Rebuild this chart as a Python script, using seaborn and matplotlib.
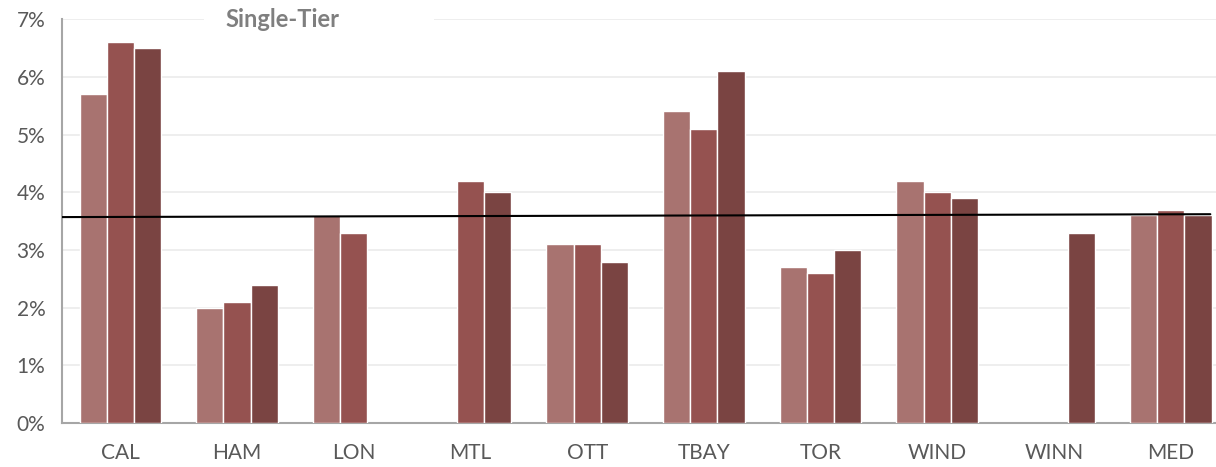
import numpy as np
import pandas as pd
import matplotlib.pyplot as plt
import matplotlib.patches as mpatches
from matplotlib.ticker import FuncFormatter, FixedLocator
import seaborn as sns

# Data (values in %)
cities = ["CAL", "HAM", "LON", "MTL", "OTT", "TBAY", "TOR", "WIND", "WINN", "MED"]
series_names = ["Series 1", "Series 2", "Series 3"]
series_1 = [5.7, 2.0, 3.6, np.nan, 3.1, 5.4, 2.7, 4.2, np.nan, 3.6]
series_2 = [6.6, 2.1, 3.3, 4.2, 3.1, 5.1, 2.6, 4.0, np.nan, 3.7]
series_3 = [6.5, 2.4, np.nan, 4.0, 2.8, 6.1, 3.0, 3.9, 3.3, 3.6]
avg_line = [3.57, 3.62]  # reference line, left end / right end
avg_line_x = [-0.5, 9.34]
colors = ["#A87370", "#955250", "#7A4442"]

df = pd.DataFrame({
    "city": cities * 3,
    "series": np.repeat(series_names, len(cities)),
    "value": series_1 + series_2 + series_3,
})

sns.set_style("white")
plt.rcParams["font.family"] = ["Lato", "DejaVu Sans"]

fig = plt.figure(figsize=(12.16, 4.67), dpi=100)
# the plot area runs a little past the right edge of the picture
ax = fig.add_axes([0.051, 0.094, 0.9597, 0.865])

sns.barplot(data=df, x="city", y="value", hue="series", order=cities,
            hue_order=series_names, palette=colors, saturation=1, width=0.7,
            edgecolor="white", linewidth=1, legend=False, ax=ax, zorder=3)

ax.set_xlim(-0.5, len(cities) - 0.5)
ax.set_ylim(0, 7)
ax.plot(avg_line_x, avg_line, color="black", linewidth=1.5, zorder=4)

ax.yaxis.set_major_locator(FixedLocator(range(0, 8)))
ax.yaxis.set_major_formatter(FuncFormatter(lambda v, p: f"{v:.0f}%"))
ax.grid(axis="y", color="#EBEBEB", linewidth=1.2, zorder=0)
ax.set_axisbelow(True)

ax.set_xlabel("")
ax.set_ylabel("")
ax.xaxis.set_minor_locator(FixedLocator(np.arange(-0.5, len(cities), 1)))
ax.tick_params(axis="x", which="major", length=0, pad=14, labelsize=15, labelcolor="#595959")
ax.tick_params(axis="x", which="minor", length=8, width=1.5, color="#A6A6A6", direction="out")
ax.tick_params(axis="y", length=0, pad=12, labelsize=15, labelcolor="#595959")

for side in ["top", "right"]:
    ax.spines[side].set_visible(False)
for side in ["left", "bottom"]:
    ax.spines[side].set_color("#A6A6A6")
    ax.spines[side].set_linewidth(1.5)

# white box behind the title that hides the top gridline
ax.add_patch(mpatches.Rectangle((0.122, 0.975), 0.197, 0.06, transform=ax.transAxes,
                                facecolor="white", edgecolor="none", zorder=5, clip_on=False))
ax.text(0.189, 1.0, "Single-Tier", transform=ax.transAxes, ha="center", va="center",
        fontsize=17, fontweight="bold", color="#7F7F7F", zorder=6)

fig.savefig("out.png", dpi=100)
